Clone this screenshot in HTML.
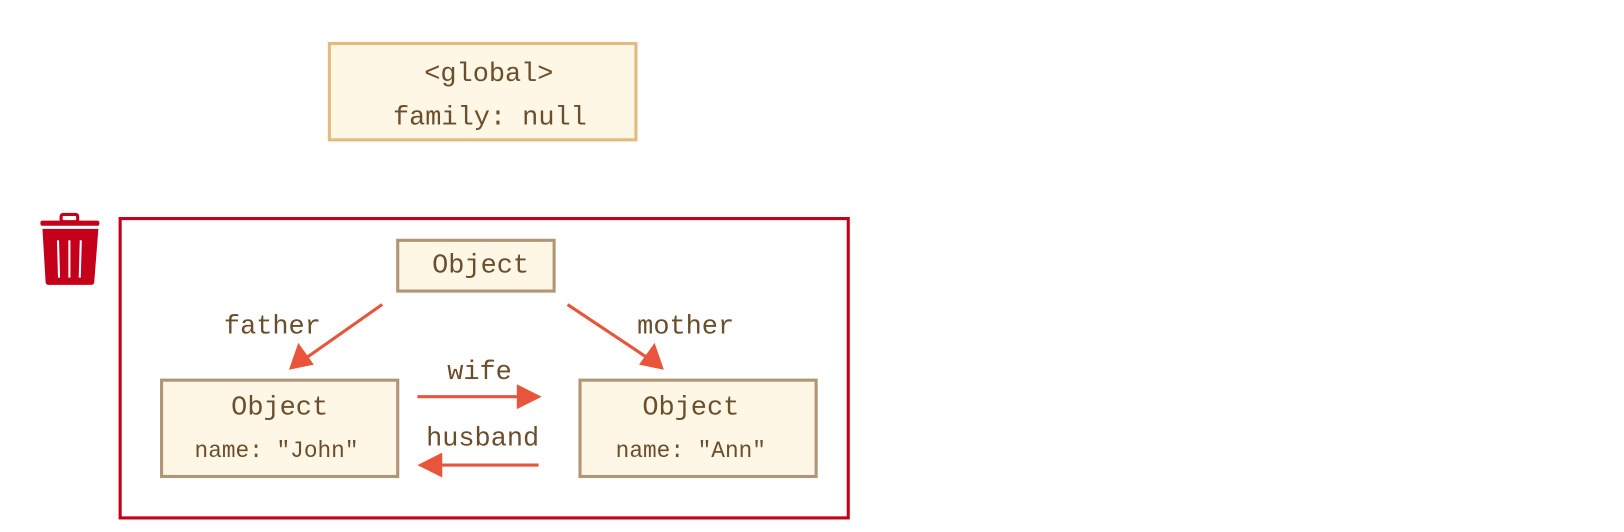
<!DOCTYPE html>
<html><head><style>body{margin:0;background:#fff}svg{display:block}text{font-family:"Liberation Mono",monospace;fill:#6b4f2c}</style></head><body>
<svg width="1624" height="532" viewBox="0 0 1568 513.6" preserveAspectRatio="none" xmlns="http://www.w3.org/2000/svg">
<rect x="318" y="42" width="296" height="93" fill="#fff7e6" stroke="#e2bb80" stroke-width="3"/>
<text x="472" y="78" font-size="26" text-anchor="middle">&lt;global&gt;</text>
<text x="473" y="120" font-size="26" text-anchor="middle">family: null</text>
<rect x="116" y="211" width="703" height="289" fill="none" stroke="#c4001a" stroke-width="3"/>
<g fill="#c4001a">
<rect x="39" y="213" width="57" height="5" rx="2"/>
<rect x="59" y="207" width="16" height="7" rx="2" fill="none" stroke="#c4001a" stroke-width="3"/>
<path d="M41 221 H95 L91 272 Q91 275 88 275 H47 Q44 275 44 272 Z"/>
</g>
<g stroke="#fff" stroke-width="2"><line x1="56" y1="232" x2="57" y2="268"/><line x1="67" y1="232" x2="67" y2="268"/><line x1="78" y1="232" x2="77" y2="268"/></g>
<g fill="#fff7e6" stroke="#b09676" stroke-width="3">
<rect x="384" y="232" width="151" height="49"/>
<rect x="156" y="367" width="228" height="93"/>
<rect x="560" y="367" width="228" height="93"/>
</g>
<text x="464" y="263" font-size="26" text-anchor="middle">Object</text>
<text x="270" y="400" font-size="26" text-anchor="middle">Object</text>
<text x="267" y="441" font-size="22" text-anchor="middle">name: "John"</text>
<text x="667" y="400" font-size="26" text-anchor="middle">Object</text>
<text x="667" y="441" font-size="22" text-anchor="middle">name: "Ann"</text>
<text x="263" y="322" font-size="26" text-anchor="middle">father</text>
<text x="662" y="322" font-size="26" text-anchor="middle">mother</text>
<text x="463" y="366" font-size="26" text-anchor="middle">wife</text>
<text x="466" y="430" font-size="26" text-anchor="middle">husband</text>
<g stroke="#e8553a" stroke-width="3">
<line x1="369" y1="294" x2="295" y2="346"/>
<line x1="548" y1="294" x2="626" y2="346"/>
<line x1="403" y1="383" x2="500" y2="383"/>
<line x1="520" y1="449" x2="425" y2="449"/>
</g>
<g fill="#e8553a">
<polygon points="279,357 288,331 303,352"/>
<polygon points="641,357 617,352 632,331"/>
<polygon points="523,383 499,371 499,395"/>
<polygon points="403,449 427,437 427,461"/>
</g>
</svg>
</body></html>
